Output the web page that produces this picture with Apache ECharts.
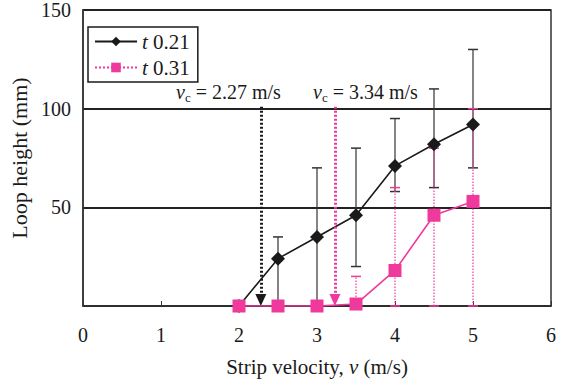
<!DOCTYPE html>
<html><head><meta charset="utf-8">
<script src="https://cdn.jsdelivr.net/npm/echarts@6/dist/echarts.min.js"></script>
<style>html,body{margin:0;padding:0;background:#fff}#c{width:567px;height:381px}</style>
</head><body><div id="c"></div>
<script>
const velocities = [2, 2.5, 3, 3.5, 4, 4.5, 5];
const t021 = [0, 24, 35, 46, 71, 82, 92];
const t021Low = [null, 0, 0, 20, 58, 60, 70];
const t021High = [null, 35, 70, 80, 95, 110, 130];
const t031 = [0, 0, 0, 1, 18, 46, 53];
const t031Low = [null, null, null, 0, 0, 0, 0];
const t031High = [null, null, null, 15, 60, 80, 100];
const vcPos = [2.28, 3.23];
const vcTop = 101;
const vcBottom = 3;
const vcLabels = ['2.27 m/s', '3.34 m/s'];
const xTicks = [0, 1, 2, 3, 4, 5, 6];
const yTicks = [50, 100, 150];
const seriesNames = ['t 0.21', 't 0.31'];

const BLACK = '#1a1a1a';
const PINK = '#f0399c';
const FONT = '"Liberation Serif", "Times New Roman", serif';

function errData(lo, hi) {
  const out = [];
  velocities.forEach((v, i) => { if (lo[i] !== null) out.push([v, lo[i], hi[i]]); });
  return out;
}
function errRender(color, dashed) {
  return function (params, api) {
    const x = api.value(0);
    const p1 = api.coord([x, api.value(1)]);
    const p2 = api.coord([x, api.value(2)]);
    const w = 5;
    const style = { stroke: color, lineWidth: 1.2, lineDash: dashed ? [1.5, 1.5] : null };
    const capStyle = { stroke: color, lineWidth: 1.5 };
    return { type: 'group', children: [
      { type: 'line', shape: { x1: p1[0], y1: p1[1], x2: p2[0], y2: p2[1] }, style: style },
      { type: 'line', shape: { x1: p1[0] - w, y1: p1[1], x2: p1[0] + w, y2: p1[1] }, style: capStyle },
      { type: 'line', shape: { x1: p2[0] - w, y1: p2[1], x2: p2[0] + w, y2: p2[1] }, style: capStyle }
    ]};
  };
}

const chart = echarts.init(document.getElementById('c'), null, { renderer: 'svg' });
chart.setOption({
  animation: false,
  textStyle: { fontFamily: FONT },
  grid: { left: 83, right: 16, top: 10, bottom: 75, show: true, borderColor: '#333', borderWidth: 1.5, outerBoundsMode: 'none', containLabel: false },
  legend: {
    left: 88, top: 27, orient: 'vertical', itemWidth: 42, itemHeight: 12, itemGap: 5,
    borderColor: BLACK, borderWidth: 1.5, padding: [4, 8, 4, 6],
    data: [{ name: seriesNames[0] }, { name: seriesNames[1], lineStyle: { type: 'dotted', width: 2 } }],
    formatter: n => '{i|t}' + n.slice(1),
    textStyle: { fontFamily: FONT, fontSize: 21, color: BLACK, rich: { i: { fontStyle: 'italic', fontFamily: FONT, fontSize: 21 } } }
  },
  xAxis: {
    type: 'value', min: 0, max: 6, interval: 1,
    name: '{t|Strip velocity, }{i|v}{t| (m/s)}', nameLocation: 'middle', nameGap: 50,
    nameTextStyle: { rich: { t: { fontFamily: FONT, fontSize: 21, color: BLACK }, i: { fontFamily: FONT, fontSize: 21, fontStyle: 'italic', color: BLACK } } },
    axisLine: { lineStyle: { color: '#333', width: 1.5 } },
    axisTick: { inside: true, length: 5, lineStyle: { color: '#333' } },
    axisLabel: { fontFamily: FONT, fontSize: 20, color: BLACK, margin: 19 },
    splitLine: { show: false }
  },
  yAxis: {
    type: 'value', min: 0, max: 150, interval: 50,
    name: 'Loop height (mm)', nameLocation: 'middle', nameGap: 52,
    nameTextStyle: { fontFamily: FONT, fontSize: 22, color: BLACK },
    axisLine: { show: true, lineStyle: { color: '#333', width: 1.5 } },
    axisTick: { show: false },
    axisLabel: { fontFamily: FONT, fontSize: 20, color: BLACK, margin: 12, formatter: v => yTicks.includes(v) ? String(v) : '' },
    splitLine: { show: true, lineStyle: { color: '#222', width: 1.8 } }
  },
  series: [
    { type: 'custom', name: 'err021', renderItem: errRender('#333', false), data: errData(t021Low, t021High), encode: { x: 0, y: [1, 2] }, z: 2 },
    { type: 'custom', name: 'err031', renderItem: errRender(PINK, true), data: errData(t031Low, t031High), encode: { x: 0, y: [1, 2] }, z: 3 },
    {
      name: seriesNames[0], type: 'line', data: velocities.map((v, i) => [v, t021[i]]),
      symbol: 'diamond', symbolSize: 14, showSymbol: true,
      lineStyle: { color: BLACK, width: 1.6 }, itemStyle: { color: BLACK }, z: 4,
      markLine: {
        silent: true, symbol: ['none', 'triangle'], symbolSize: [11, 12],
        lineStyle: { color: BLACK, type: [2, 2], width: 3 }, label: { show: false },
        data: [[{ coord: [vcPos[0], vcTop] }, { coord: [vcPos[0], vcBottom] }]]
      }
    },
    {
      name: seriesNames[1], type: 'line', data: velocities.map((v, i) => [v, t031[i]]),
      symbol: 'rect', symbolSize: 13, showSymbol: true,
      lineStyle: { color: PINK, width: 1.6 }, itemStyle: { color: PINK }, z: 5,
      markLine: {
        silent: true, symbol: ['none', 'triangle'], symbolSize: [11, 12],
        lineStyle: { color: PINK, type: [2, 2], width: 3 }, label: { show: false },
        data: [[{ coord: [vcPos[1], vcTop] }, { coord: [vcPos[1], vcBottom] }]]
      }
    }
  ],
  graphic: vcLabels.map((lab, k) => ({
    type: 'text', left: [176, 313][k], top: 82,
    style: {
      text: '{v|v}{s|c}{t| = ' + lab + '}',
      rich: {
        v: { fontFamily: FONT, fontSize: 20, fontStyle: 'italic', fill: BLACK },
        s: { fontFamily: FONT, fontSize: 13, fill: BLACK, padding: [10, 0, 0, 0] },
        t: { fontFamily: FONT, fontSize: 20, fill: BLACK }
      }
    }
  }))
});
</script></body></html>
